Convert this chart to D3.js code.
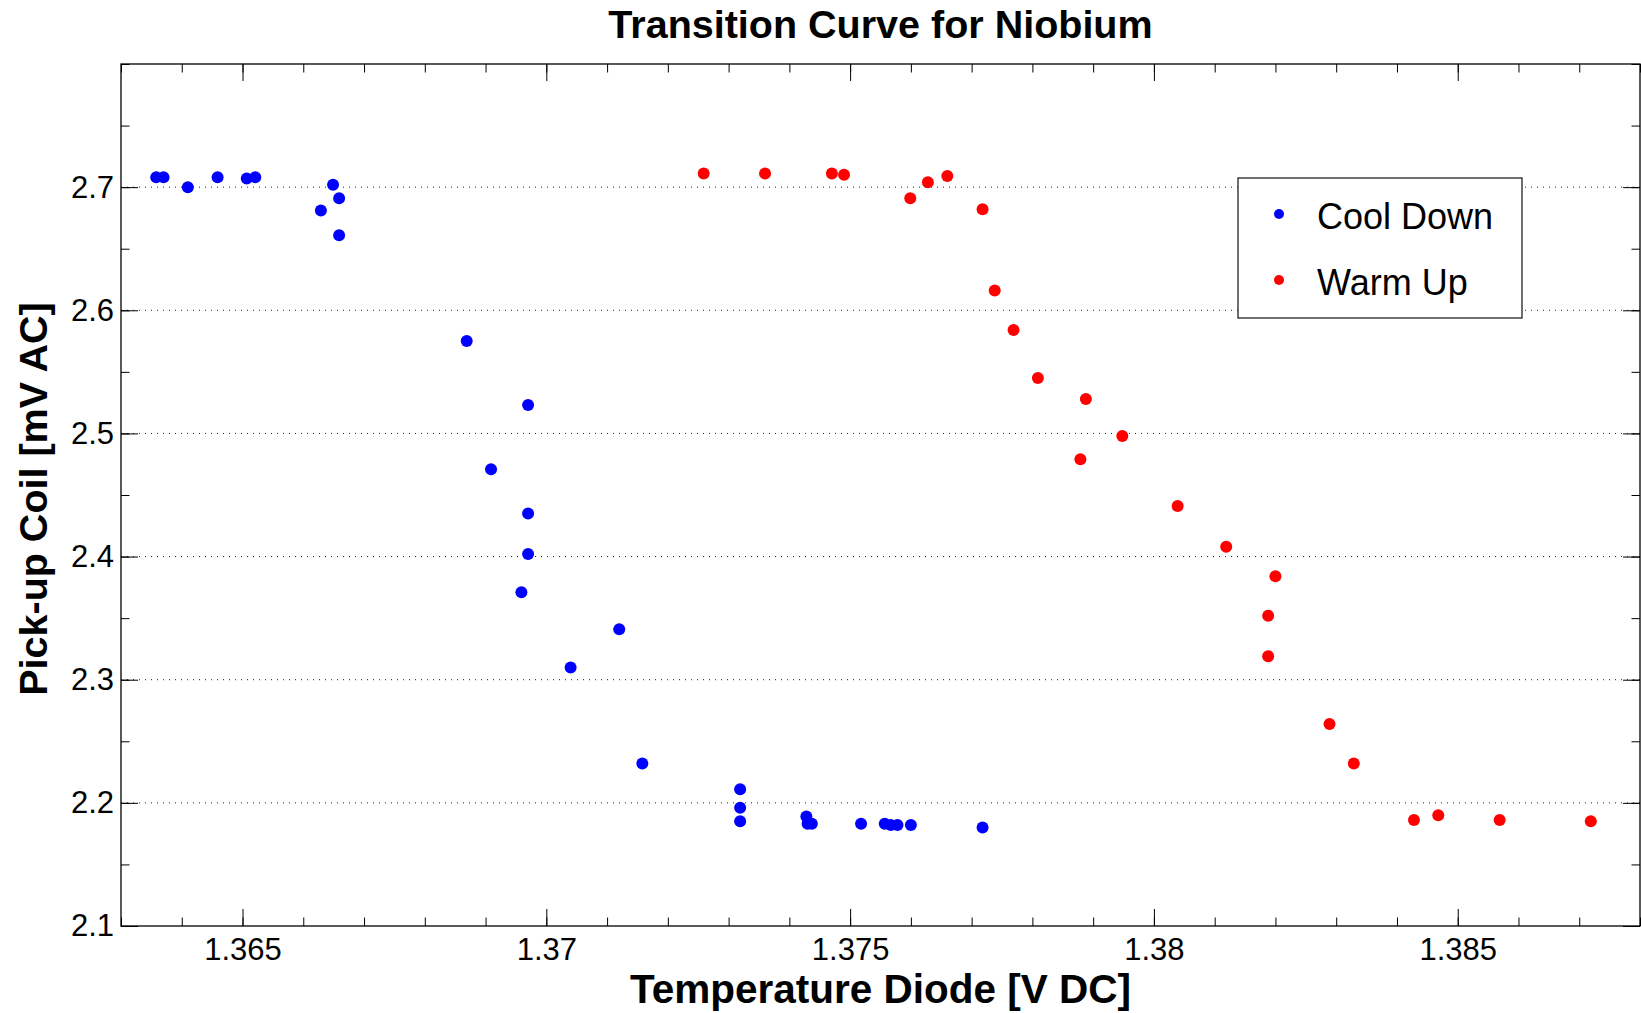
<!DOCTYPE html>
<html>
<head>
<meta charset="utf-8">
<script src="https://cdn.jsdelivr.net/npm/d3@7"></script>
<style>
  body { margin: 0; background: #fff; }
  text { font-family: "Liberation Sans", Arial, sans-serif; }
</style>
</head>
<body>
<script>
// cool down run (blue)
var coolX = [1.36358, 1.36370, 1.36410, 1.36459, 1.36507, 1.36521, 1.36649, 1.36659, 1.36629, 1.36659,
             1.36869, 1.36970, 1.36909, 1.36970, 1.36970, 1.36959, 1.37120, 1.37040, 1.37158,
             1.37319, 1.37319, 1.37319, 1.37428, 1.37430, 1.37437, 1.37518, 1.37557, 1.37567, 1.37578, 1.37600, 1.37718];
var coolY = [2.708, 2.708, 2.700, 2.708, 2.707, 2.708, 2.702, 2.691, 2.681, 2.661,
             2.575, 2.523, 2.471, 2.435, 2.402, 2.371, 2.341, 2.310, 2.232,
             2.211, 2.196, 2.185, 2.189, 2.183, 2.183, 2.183, 2.183, 2.182, 2.182, 2.182, 2.180];

// warm up run (red)
var warmX = [1.37259, 1.37360, 1.37470, 1.37490, 1.37599, 1.37628, 1.37660, 1.37718, 1.37738, 1.37769,
             1.37809, 1.37888, 1.37948, 1.37879, 1.38039, 1.38119, 1.38200, 1.38188, 1.38188,
             1.38289, 1.38329, 1.38428, 1.38468, 1.38569, 1.38719];
var warmY = [2.711, 2.711, 2.711, 2.710, 2.691, 2.704, 2.709, 2.682, 2.616, 2.584,
             2.545, 2.528, 2.498, 2.479, 2.441, 2.408, 2.384, 2.352, 2.319,
             2.264, 2.232, 2.186, 2.190, 2.186, 2.185];

var xTicks = [1.365, 1.370, 1.375, 1.380, 1.385];
var xTickLabels = ["1.365", "1.37", "1.375", "1.38", "1.385"];
var yTicks = [2.1, 2.2, 2.3, 2.4, 2.5, 2.6, 2.7];
var yTickLabels = ["2.1", "2.2", "2.3", "2.4", "2.5", "2.6", "2.7"];
var gridY = [2.2, 2.3, 2.4, 2.5, 2.6, 2.7];
var seriesNames = ["Cool Down", "Warm Up"];
var seriesColors = ["#0000ff", "#ff0000"];

var W = 1641, H = 1013;
var margin = {top: 64, right: 1, bottom: 87, left: 121}
  , width = W - margin.left - margin.right
  , height = H - margin.top - margin.bottom;

var x = d3.scaleLinear().domain([1.363, 1.388]).range([0, width]);
var y = d3.scaleLinear().domain([2.1, 2.8]).range([height, 0]);

var svg = d3.select('body').append('svg')
  .attr('width', W).attr('height', H);

var main = svg.append('g')
  .attr('transform', 'translate(' + margin.left + ',' + margin.top + ')');

// dotted grid lines
main.append('g').selectAll('line')
  .data(gridY)
  .enter().append('line')
    .attr('x1', 0).attr('x2', width)
    .attr('y1', function (d) { return y(d); })
    .attr('y2', function (d) { return y(d); })
    .attr('stroke', '#222')
    .attr('stroke-width', 1)
    .attr('stroke-dasharray', '1,5');

var xMinor = d3.range(1.363, 1.3885, 0.001);
var yMinor = d3.range(2.1, 2.801, 0.05);

function styleAxis(g) {
  g.select('.domain').remove();
  g.selectAll('line').attr('stroke', '#000').attr('stroke-width', 1);
}

// minor ticks on all four sides (inward)
main.append('g').attr('transform', 'translate(0,' + height + ')')
  .call(d3.axisBottom(x).tickValues(xMinor).tickSize(-8.5).tickFormat(''))
  .call(styleAxis);
main.append('g')
  .call(d3.axisTop(x).tickValues(xMinor).tickSize(-8.5).tickFormat(''))
  .call(styleAxis);
main.append('g')
  .call(d3.axisLeft(y).tickValues(yMinor).tickSize(-8.5).tickFormat(''))
  .call(styleAxis);
main.append('g').attr('transform', 'translate(' + width + ',0)')
  .call(d3.axisRight(y).tickValues(yMinor).tickSize(-8.5).tickFormat(''))
  .call(styleAxis);

// major ticks
main.append('g').attr('transform', 'translate(0,' + height + ')')
  .call(d3.axisBottom(x).tickValues(xTicks).tickSize(-17).tickPadding(12)
    .tickFormat(function (d, i) { return xTickLabels[i]; }))
  .call(styleAxis);
main.append('g')
  .call(d3.axisTop(x).tickValues(xTicks).tickSize(-17).tickFormat(''))
  .call(styleAxis);
main.append('g')
  .call(d3.axisLeft(y).tickValues(yTicks).tickSize(-17).tickPadding(7)
    .tickFormat(function (d, i) { return yTickLabels[i]; }))
  .call(styleAxis);
main.append('g').attr('transform', 'translate(' + width + ',0)')
  .call(d3.axisRight(y).tickValues(yTicks).tickSize(-17).tickFormat(''))
  .call(styleAxis);

main.selectAll('.tick text')
  .attr('font-family', '"Liberation Sans", Arial, sans-serif')
  .attr('font-size', 31)
  .attr('fill', '#000');

// box
main.append('rect')
  .attr('x', 0).attr('y', 0)
  .attr('width', width).attr('height', height)
  .attr('fill', 'none')
  .attr('stroke', '#000')
  .attr('stroke-width', 1.3);

// points
var g = main.append('g');
g.selectAll('circle.cool')
  .data(coolX)
  .enter().append('circle')
    .attr('class', 'cool')
    .attr('cx', function (d) { return x(d); })
    .attr('cy', function (d, i) { return y(coolY[i]); })
    .attr('r', 6)
    .attr('fill', seriesColors[0]);
g.selectAll('circle.warm')
  .data(warmX)
  .enter().append('circle')
    .attr('class', 'warm')
    .attr('cx', function (d) { return x(d); })
    .attr('cy', function (d, i) { return y(warmY[i]); })
    .attr('r', 6)
    .attr('fill', seriesColors[1]);

// legend
var legend = svg.append('g').attr('transform', 'translate(1238,178)');
legend.append('rect')
  .attr('width', 284).attr('height', 140)
  .attr('fill', '#fff')
  .attr('stroke', '#222')
  .attr('stroke-width', 1.3);
var items = legend.selectAll('g.item')
  .data(seriesNames)
  .enter().append('g')
    .attr('class', 'item')
    .attr('transform', function (d, i) { return 'translate(0,' + (36 + i * 66) + ')'; });
items.append('circle')
  .attr('cx', 41).attr('cy', 0).attr('r', 5)
  .attr('fill', function (d, i) { return seriesColors[i]; });
items.append('text')
  .attr('x', 79).attr('y', 14.5)
  .attr('font-size', 36)
  .text(function (d) { return d; });

// title and axis labels
svg.append('text')
  .attr('x', margin.left + width / 2).attr('y', 38)
  .attr('text-anchor', 'middle')
  .attr('font-size', 39.5).attr('font-weight', 'bold')
  .text('Transition Curve for Niobium');

svg.append('text')
  .attr('x', margin.left + width / 2).attr('y', 1003)
  .attr('text-anchor', 'middle')
  .attr('font-size', 40.5).attr('font-weight', 'bold')
  .text('Temperature Diode [V DC]');

svg.append('text')
  .attr('transform', 'translate(47,499) rotate(-90)')
  .attr('text-anchor', 'middle')
  .attr('font-size', 39.5).attr('font-weight', 'bold')
  .text('Pick-up Coil [mV AC]');
</script>
</body>
</html>
